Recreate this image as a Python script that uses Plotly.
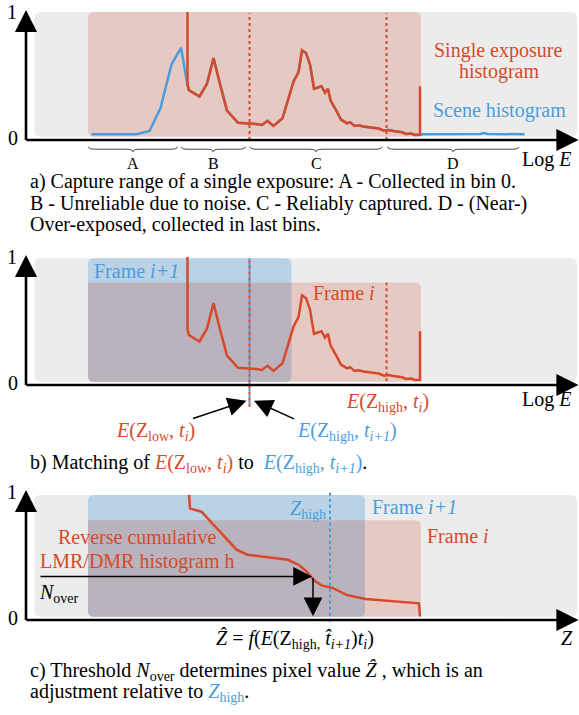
import plotly.graph_objects as go

# ---------------- data ----------------
# Scene histogram (log E in arbitrary units, normalised count)
scene_logE = [13.1, 22.1, 24.7, 26.9, 29.1, 31.0, 32.3, 32.6, 34.7, 36.2, 37.5, 38.9,
              40.2, 42.4, 44.7, 46.0, 47.2, 48.3, 49.5, 51.3, 53.5, 54.5, 55.2, 56.0,
              56.8, 57.6, 59.1, 59.8, 60.4, 60.9, 62.2, 63.0, 64.2, 64.8, 65.7, 66.5,
              67.5, 68.7, 69.5, 70.5, 71.6, 72.5, 73.5, 74.6, 75.2, 76.0, 77.0, 77.8,
              78.6, 78.8, 79.4, 90.8, 91.5, 92.3, 99.7]
scene_hist = [0.045, 0.045, 0.07, 0.25, 0.59, 0.72, 0.43, 0.39, 0.34, 0.44, 0.64, 0.42,
              0.23, 0.135, 0.13, 0.125, 0.117, 0.15, 0.11, 0.17, 0.455, 0.53, 0.70, 0.68,
              0.59, 0.40, 0.42, 0.37, 0.40, 0.31, 0.22, 0.16, 0.13, 0.14, 0.11, 0.115,
              0.105, 0.10, 0.10, 0.09, 0.073, 0.078, 0.07, 0.065, 0.06, 0.047, 0.05, 0.04,
              0.04, 0.04, 0.045, 0.047, 0.055, 0.047, 0.045]

# Single exposure: capture range and the clipped end bins
capture_lo, capture_hi = 32.3, 78.8
bin0_value, last_bin_value = 1.0, 0.42

# Reverse cumulative LMR/DMR histogram (panel c)
rc_z = [32.6, 32.8, 35.1, 37.6, 39.9, 42.1, 44.3, 48.0, 52.4, 54.6, 56.1, 57.6,
        59.1, 61.3, 64.2, 67.9, 73.1, 78.6, 78.8]
rc_h = [0.977, 0.87, 0.846, 0.74, 0.64, 0.55, 0.51, 0.49, 0.47, 0.43, 0.38, 0.31,
        0.27, 0.25, 0.195, 0.164, 0.148, 0.13, 0.026]

# Frame ranges
frame_i = (12.4, 79.0)
frame_i1_b = (12.4, 53.1)
frame_i1_c = (12.4, 67.8)
scene_box = (1.7, 110.2)
E_low_i = 44.7        # E(Z_low, t_i) == E(Z_high, t_i+1)
E_high_i = 72.1       # E(Z_high, t_i)
Z_high = 60.8
Z_hat = 57.4
N_over = 0.34
brace_ranges = [(12.5, 30.3, "A"), (31.0, 43.9, "B"), (44.8, 71.2, "C"), (72.3, 98.6, "D")]

# single exposure histogram built from scene histogram
single_x = [capture_lo] + [x for x in scene_logE if capture_lo <= x <= capture_hi] + [capture_hi]
single_y = [bin0_value] + [y for x, y in zip(scene_logE, scene_hist) if capture_lo <= x <= capture_hi] + [last_bin_value]

# ---------------- style ----------------
RED = '#d64a2a'
BLUE = '#4a9ddc'
GRAY = '#ececec'
PINK = '#e6c9c2'
LBLUE = '#b9d2e6'
OVER = '#bab2bd'
FONT = 'Liberation Serif'

fig = go.Figure()

fig.add_trace(go.Scatter(x=scene_logE, y=scene_hist, mode='lines', line=dict(color=BLUE, width=2.5),
                         xaxis='x', yaxis='y', hoverinfo='skip', showlegend=False))
fig.add_trace(go.Scatter(x=single_x, y=single_y, mode='lines', line=dict(color=RED, width=2.5),
                         xaxis='x', yaxis='y', hoverinfo='skip', showlegend=False))
fig.add_trace(go.Scatter(x=single_x, y=single_y, mode='lines', line=dict(color=RED, width=2.5),
                         xaxis='x2', yaxis='y2', hoverinfo='skip', showlegend=False))
fig.add_trace(go.Scatter(x=rc_z, y=rc_h, mode='lines', line=dict(color=RED, width=2.5),
                         xaxis='x3', yaxis='y3', hoverinfo='skip', showlegend=False))

shapes = []
RX, RY = 1.2, 0.047


def rrect(x0, x1, y0, y1, color, xr, yr, corners=(1, 1, 1, 1)):
    bl, br, tr, tl = [c * RX for c in corners]
    bly, bry, try_, tly = [c * RY for c in corners]
    p = (f"M{x0+bl},{y0} L{x1-br},{y0} Q{x1},{y0} {x1},{y0+bry} L{x1},{y1-try_} "
         f"Q{x1},{y1} {x1-tr},{y1} L{x0+tl},{y1} Q{x0},{y1} {x0},{y1-tly} "
         f"L{x0},{y0+bly} Q{x0},{y0} {x0+bl},{y0} Z")
    shapes.append(dict(type='path', path=p, xref=xr, yref=yr, fillcolor=color,
                       line=dict(width=0), layer='below'))


def vline(x, y0, y1, color, xr, yr, width=2):
    shapes.append(dict(type='line', x0=x, x1=x, y0=y0, y1=y1, xref=xr, yref=yr,
                       line=dict(color=color, width=width, dash='3px,3px'), layer='below'))


# panel a
rrect(scene_box[0], scene_box[1], 0.025, 1.0, GRAY, 'x', 'y')
rrect(frame_i[0], frame_i[1], 0.025, 1.0, PINK, 'x', 'y')
vline(E_low_i, 0.0, 0.99, RED, 'x', 'y')
vline(E_high_i, 0.0, 0.99, RED, 'x', 'y')
# braces
yt, ytip = -0.052, -0.092
ym = (yt + ytip) / 2
for x0, x1, lab in brace_ranges:
    xm = (x0 + x1) / 2
    d = 1.4
    p = (f"M{x0},{yt} Q{x0},{ym} {x0+d},{ym} L{xm-d},{ym} Q{xm},{ym} {xm},{ytip} "
         f"Q{xm},{ym} {xm+d},{ym} L{x1-d},{ym} Q{x1},{ym} {x1},{yt}")
    shapes.append(dict(type='path', path=p, xref='x', yref='y', line=dict(color='#444', width=1)))

# panel b
rrect(scene_box[0], scene_box[1], 0.025, 0.99, GRAY, 'x2', 'y2')
rrect(frame_i[0], frame_i[1], 0.025, 0.80, PINK, 'x2', 'y2')
rrect(frame_i1_b[0], frame_i1_b[1], 0.025, 0.99, LBLUE, 'x2', 'y2')
rrect(frame_i1_b[0], frame_i1_b[1], 0.025, 0.80, OVER, 'x2', 'y2', corners=(1, 1, 0, 0))
vline(E_low_i, -0.17, 0.99, RED, 'x2', 'y2')
vline(E_low_i, -0.17 + 0.0234, 0.99, BLUE, 'x2', 'y2')
vline(E_high_i, 0.03, 0.80, RED, 'x2', 'y2')

# panel c
rrect(scene_box[0], scene_box[1], 0.025, 0.977, GRAY, 'x3', 'y3')
rrect(frame_i[0], frame_i[1], 0.025, 0.78, PINK, 'x3', 'y3')
rrect(frame_i1_c[0], frame_i1_c[1], 0.025, 0.977, LBLUE, 'x3', 'y3')
rrect(frame_i1_c[0], frame_i1_c[1], 0.025, 0.78, OVER, 'x3', 'y3', corners=(1, 1, 0, 0))
vline(Z_high, -0.013, 1.0, BLUE, 'x3', 'y3')

ann = []


def text(x, y, t, xr, yr, size=20, color='black', xanchor='center', yanchor='middle'):
    ann.append(dict(x=x, y=y, text=t, xref=xr, yref=yr, showarrow=False, xanchor=xanchor,
                    yanchor=yanchor, font=dict(family=FONT, size=size, color=color)))


def arrow(x, y, ax, ay, xr, yr, width=1.5, size=2.5):
    ann.append(dict(x=x, y=y, ax=ax, ay=ay, xref=xr, yref=yr, axref=xr, ayref=yr, text='',
                    showarrow=True, arrowhead=2, arrowsize=size, arrowwidth=width,
                    arrowcolor='black'))


for xr, yr in [('x', 'y'), ('x2', 'y2'), ('x3', 'y3')]:
    arrow(0, 1.016, 0, -0.012, xr, yr, width=2.6, size=1.7)
    arrow(110.5, 0, -0.25, 0, xr, yr, width=2.6, size=1.7)
    text(-2.8, 1.0, '1', xr, yr)
    text(-2.7, 0.016, '0', xr, yr)

# panel a texts
text(94.4, 0.703, 'Single exposure', 'x', 'y', color=RED)
text(94.6, 0.533, 'histogram', 'x', 'y', color=RED)
text(94.7, 0.234, 'Scene histogram', 'x', 'y', color=BLUE)
for x0, x1, lab in brace_ranges:
    text((x0 + x1) / 2, -0.18, lab, 'x', 'y', size=16)
text(109.3, -0.156, 'Log <i>E</i>', 'x', 'y', xanchor='right')
text(0.4, -0.328, 'a) Capture range of a single exposure: A - Collected in bin 0.', 'x', 'y', xanchor='left')
text(0.4, -0.495, 'B - Unreliable due to noise. C - Reliably captured. D - (Near-)', 'x', 'y', xanchor='left')
text(0.4, -0.664, 'Over-exposed, collected in last bins.', 'x', 'y', xanchor='left')

# panel b texts
text(22.1, 0.893, 'Frame <i>i+1</i>', 'x2', 'y2', color=BLUE)
text(63.5, 0.719, 'Frame <i>i</i>', 'x2', 'y2', color=RED)
text(72.2, -0.14, '<i>E</i>(Z<sub>high</sub>, <i>t</i><sub><i>i</i></sub>)', 'x2', 'y2', color=RED)
text(25.8, -0.36, '<i>E</i>(Z<sub>low</sub>, <i>t</i><sub><i>i</i></sub>)', 'x2', 'y2', color=RED)
text(64.2, -0.36, '<i>E</i>(Z<sub>high</sub>, <i>t</i><sub><i>i+1</i></sub>)', 'x2', 'y2', color=BLUE)
text(109.3, -0.117, 'Log <i>E</i>', 'x2', 'y2', xanchor='right')
arrow(44.1, -0.123, 33.1, -0.265, 'x2', 'y2')
arrow(45.6, -0.123, 53.9, -0.27, 'x2', 'y2')
text(0.4, -0.61, 'b) Matching of <span style="color:%s"><i>E</i>(Z<sub>low</sub>, <i>t</i><sub><i>i</i></sub>)</span> to '
     ' <span style="color:%s"><i>E</i>(Z<sub>high</sub>, <i>t</i><sub><i>i+1</i></sub>)</span>.' % (RED, BLUE),
     'x2', 'y2', xanchor='left')

# panel c texts
text(56.4, 0.86, '<i>Z</i><sub>high</sub>', 'x3', 'y3', color=BLUE)
text(77.7, 0.885, 'Frame <i>i+1</i>', 'x3', 'y3', color=BLUE)
text(86.4, 0.66, 'Frame <i>i</i>', 'x3', 'y3', color=RED)
text(22.1, 0.65, 'Reverse cumulative', 'x3', 'y3', color=RED)
text(22.1, 0.46, 'LMR/DMR histogram h', 'x3', 'y3', color=RED)
text(2.2, 0.21, '<i>N</i><sub>over</sub>', 'x3', 'y3', xanchor='left')
arrow(Z_hat - 0.2, N_over, 2.6, N_over, 'x3', 'y3')
arrow(Z_hat, 0.03, Z_hat, N_over, 'x3', 'y3')
text(53.7, -0.15, '<i>\u1e90</i> = <i>f</i>(<i>E</i>(Z<sub>high,</sub> <i>t\u0302</i><sub><i>i+1</i></sub>)<i>t</i><sub><i>i</i></sub>)',
     'x3', 'y3')
text(108.2, -0.14, '<i>Z</i>', 'x3', 'y3')
text(0.4, -0.40, 'c) Threshold <i>N</i><sub>over</sub> determines pixel value <i>\u1e90</i> , which is an',
     'x3', 'y3', xanchor='left')
text(0.4, -0.57, 'adjustment relative to <span style="color:%s"><i>Z</i><sub>high</sub></span>.' % BLUE,
     'x3', 'y3', xanchor='left')

XR = [-5.2, 110.6]
ax_common = dict(visible=False, fixedrange=True, showgrid=False, zeroline=False)
fig.update_layout(
    width=579, height=715, autosize=False,
    margin=dict(l=0, r=0, t=0, b=0),
    paper_bgcolor='white', plot_bgcolor='white',
    font=dict(family=FONT, size=20, color='black'),
    showlegend=False,
    xaxis=dict(domain=[0, 1], range=XR, anchor='y', **ax_common),
    yaxis=dict(domain=[1 - 240 / 715, 1], range=[-0.78125, 1.09375], anchor='x', **ax_common),
    xaxis2=dict(domain=[0, 1], range=XR, anchor='y2', **ax_common),
    yaxis2=dict(domain=[1 - 475 / 715, 1 - 240 / 715], range=[-0.7031, 1.1328], anchor='x2', **ax_common),
    xaxis3=dict(domain=[0, 1], range=XR, anchor='y3', **ax_common),
    yaxis3=dict(domain=[0, 1 - 475 / 715], range=[-0.7422, 1.1328], anchor='x3', **ax_common),
    shapes=shapes,
    annotations=ann,
)

fig.write_html("out.html", config=dict(displayModeBar=False))
